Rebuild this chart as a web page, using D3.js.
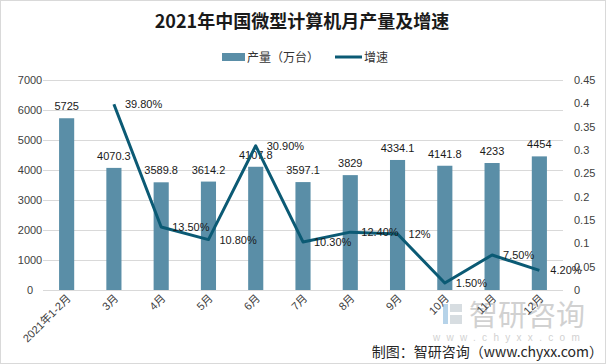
<!DOCTYPE html>
<html><head><meta charset="utf-8">
<script src="https://cdn.jsdelivr.net/npm/d3@7"></script>
<style>body{margin:0;background:#fff}svg{display:block}text{font-family:"Liberation Sans","Noto Sans CJK SC",sans-serif}</style>
</head><body><svg id="c" width="606" height="364"></svg>
<script>
const categories=["2021年1-2月","3月","4月","5月","6月","7月","8月","9月","10月","11月","12月"];
const output=[5725,4070.3,3589.8,3614.2,4107.8,3597.1,3829,4334.1,4141.8,4233,4454];
const growth=[null,0.398,0.135,0.108,0.309,0.103,0.124,0.12,0.015,0.075,0.042];
const growthLabels=["","39.80%","13.50%","10.80%","30.90%","10.30%","12.40%","12%","1.50%","7.50%","4.20%"];
const leftTicks=[0,1000,2000,3000,4000,5000,6000,7000];
const rightTicks=[0,0.05,0.1,0.15,0.2,0.25,0.3,0.35,0.4,0.45];
const rightTickLabels=["0","0.05","0.1","0.15","0.2","0.25","0.3","0.35","0.4","0.45"];

const svg=d3.select("#c");
const W=606,H=364,L=43,R=563,T=80,B=290;
const barColor="#5a8ea7",lineColor="#0b5a74";
svg.append("rect").attr("x",0.5).attr("y",0.5).attr("width",W-1).attr("height",H-1).attr("fill","#fff").attr("stroke","#d9d9d9");

const x=d3.scaleBand().domain(categories).range([L,R]).paddingInner(0.68).paddingOuter(0.34);
const yL=d3.scaleLinear().domain([0,7000]).range([B,T]);
const yR=d3.scaleLinear().domain([0,0.45]).range([B,T]);

// grid
svg.append("g").selectAll("line").data(leftTicks).join("line")
 .attr("x1",L).attr("x2",R).attr("y1",d=>yL(d)+0.5).attr("y2",d=>yL(d)+0.5)
 .attr("stroke","#d9d9d9").attr("stroke-width",1);

// left axis labels
const la=d3.axisLeft(yL).tickValues(leftTicks).tickFormat(d3.format("d")).tickSize(0).tickPadding(0);
svg.append("g").attr("transform",`translate(30,0)`).call(la)
 .call(g=>g.select(".domain").remove())
 .call(g=>g.selectAll("text").attr("text-anchor","middle").attr("font-size",11).attr("fill","#404040").attr("font-family","Liberation Sans, sans-serif"));

// right axis labels
const ra=d3.axisRight(yR).tickValues(rightTicks).tickFormat((d,i)=>rightTickLabels[i]).tickSize(0).tickPadding(0);
svg.append("g").attr("transform",`translate(574,0)`).call(ra)
 .call(g=>g.select(".domain").remove())
 .call(g=>g.selectAll("text").attr("font-size",11).attr("fill","#404040").attr("font-family","Liberation Sans, sans-serif"));

// bars
svg.append("g").selectAll("rect").data(output).join("rect")
 .attr("x",(d,i)=>x(categories[i])).attr("width",x.bandwidth())
 .attr("y",d=>yL(d)).attr("height",d=>B-yL(d)).attr("fill",barColor);

// bar labels
svg.append("g").selectAll("text").data(output).join("text")
 .attr("x",(d,i)=>x(categories[i])+x.bandwidth()/2).attr("y",d=>yL(d)-8)
 .attr("text-anchor","middle").attr("font-size",11).attr("fill","#1a1a1a").text(d=>d);

// line
const cx=i=>x(categories[i])+x.bandwidth()/2;
const pts=growth.map((v,i)=>({v,i})).filter(d=>d.v!==null);
svg.append("path").datum(pts)
 .attr("d",d3.line().x(d=>cx(d.i)).y(d=>yR(d.v)))
 .attr("fill","none").attr("stroke",lineColor).attr("stroke-width",3).attr("stroke-linejoin","round");

svg.append("g").selectAll("text").data(pts).join("text")
 .attr("x",d=>cx(d.i)+11).attr("y",d=>yR(d.v)+4)
 .attr("font-size",11).attr("fill","#1a1a1a").text(d=>growthLabels[d.i]);

// watermark
const wm=svg.append("g").attr("opacity",0.45);
wm.append("rect").attr("x",443).attr("y",304).attr("width",5).attr("height",20).attr("fill","#5f9fd0");
wm.append("rect").attr("x",450).attr("y",304).attr("width",12).attr("height",8).attr("fill","#a8b4be");
wm.append("rect").attr("x",450).attr("y",315).attr("width",12).attr("height",9).attr("fill","#a8b4be");
wm.append("text").attr("x",469).attr("y",326).attr("font-size",29).attr("fill","#9a9a9a").style("font-family","'Noto Sans CJK SC',sans-serif").text("智研咨询");
wm.append("text").attr("x",433).attr("y",341).attr("font-size",10).attr("fill","#9a9a9a").attr("letter-spacing",6.3).text("www.chyxx.com");

// x labels
svg.append("g").selectAll("text").data(categories).join("text")
 .attr("transform",(d,i)=>`translate(${cx(i)+5},${299}) rotate(-45)`)
 .attr("text-anchor","end").attr("font-size",11).attr("fill","#404040").text(d=>d);

// title
svg.append("text").attr("x",302).attr("y",28).attr("text-anchor","middle")
 .attr("font-size",18).attr("font-weight","bold").attr("fill","#1a1a1a")
 .style("font-family","'Noto Sans CJK SC',sans-serif").text("2021年中国微型计算机月产量及增速");

// legend
const lg=svg.append("g");
lg.append("rect").attr("x",222).attr("y",53).attr("width",23).attr("height",8).attr("fill",barColor);
lg.append("text").attr("x",247).attr("y",61.5).attr("font-size",12).attr("fill","#333").style("font-family","'Noto Sans CJK SC',sans-serif").text("产量（万台）");
lg.append("line").attr("x1",335).attr("x2",362).attr("y1",57).attr("y2",57).attr("stroke",lineColor).attr("stroke-width",3);
lg.append("text").attr("x",364).attr("y",61.5).attr("font-size",12).attr("fill","#333").style("font-family","'Noto Sans CJK SC',sans-serif").text("增速");

// source
svg.append("text").attr("x",603).attr("y",357).attr("text-anchor","end").attr("font-size",14).attr("fill","#262626")
 .style("font-family","'Noto Sans CJK SC',sans-serif").text("制图：智研咨询（www.chyxx.com）");
</script></body></html>
